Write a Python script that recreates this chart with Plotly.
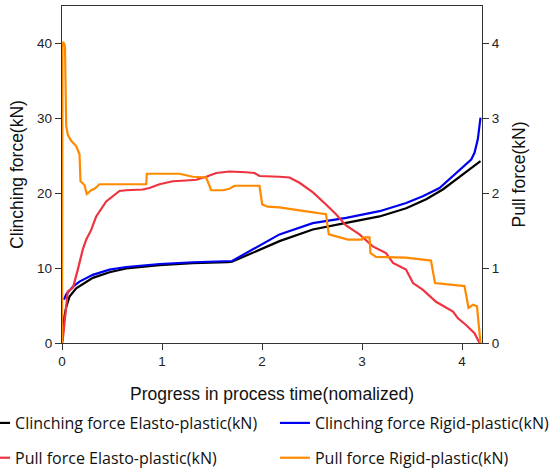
import plotly.graph_objects as go

# ---- data ----
x_ce = [0, 0.01, 0.025, 0.042, 0.075, 0.142, 0.24, 0.308, 0.475, 0.642, 0.975, 1.308, 1.658, 1.7,
        2.175, 2.508, 2.842, 3.175, 3.442, 3.642, 3.808, 3.942, 4.075, 4.185]
y_ce = [0, 1.5, 3.6, 4.8, 6.2, 7.3, 8.1, 8.7, 9.45, 9.95, 10.4, 10.65, 10.8, 10.85,
        13.6, 15.15, 16.04, 16.9, 18.0, 19.2, 20.5, 21.8, 23.2, 24.3]

x_cr = [0.02, 0.042, 0.108, 0.175, 0.308, 0.475, 0.642, 0.975, 1.308, 1.658, 1.7,
        2.175, 2.508, 2.842, 3.175, 3.442, 3.608, 3.775, 3.908, 4.008, 4.092, 4.125, 4.158, 4.185]
y_cr = [5.8, 6.5, 7.5, 8.2, 9.1, 9.8, 10.15, 10.55, 10.78, 10.92, 10.95,
        14.5, 16.0, 16.7, 17.6, 18.7, 19.6, 20.7, 22.3, 23.4, 24.5, 25.4, 27.2, 30.1]

x_pe = [0, 0.008, 0.042, 0.058, 0.092, 0.11, 0.158, 0.208, 0.242, 0.292, 0.342, 0.442, 0.575,
        0.642, 0.808, 0.875, 0.975, 1.108, 1.242, 1.342, 1.442, 1.542, 1.675, 1.775, 1.842,
        1.925, 1.975, 2.175, 2.275, 2.375, 2.51, 2.64, 2.74, 2.84, 2.975, 3.108, 3.24, 3.31,
        3.44, 3.51, 3.61, 3.74, 3.91, 3.96, 4.04, 4.125, 4.175]
y_pe = [0, 0.05, 0.49, 0.69, 0.72, 0.74, 0.98, 1.25, 1.38, 1.51, 1.69, 1.89, 2.03,
        2.04, 2.05, 2.07, 2.12, 2.16, 2.17, 2.18, 2.22, 2.27, 2.29, 2.29, 2.28,
        2.27, 2.23, 2.22, 2.21, 2.14, 2.01, 1.85, 1.72, 1.57, 1.45, 1.29, 1.20, 1.07,
        0.98, 0.80, 0.71, 0.55, 0.42, 0.33, 0.24, 0.13, 0]

x_pr = [0, 0.005, 0.021, 0.03, 0.042, 0.058, 0.092, 0.142, 0.175, 0.185, 0.225, 0.248, 0.292,
        0.325, 0.375, 0.508, 0.842, 0.848, 1.175, 1.308, 1.442, 1.492, 1.608, 1.675, 1.725,
        1.975, 2.002, 2.058, 2.175, 2.375, 2.64, 2.668, 2.81, 2.86, 3.0, 3.01, 3.075, 3.085,
        3.14, 3.44, 3.69, 3.73, 4.025, 4.065, 4.11, 4.15, 4.185]
y_pr = [0, 4.02, 4.0, 3.95, 2.9, 2.78, 2.70, 2.63, 2.52, 2.16, 2.11, 1.99, 2.04,
        2.06, 2.12, 2.12, 2.12, 2.26, 2.26, 2.22, 2.21, 2.04, 2.04, 2.06, 2.10,
        2.10, 1.85, 1.82, 1.81, 1.77, 1.72, 1.45, 1.40, 1.38, 1.38, 1.41, 1.41, 1.20,
        1.15, 1.14, 1.10, 0.80, 0.76, 0.47, 0.51, 0.49, 0]

x_ticks = [0, 1, 2, 3, 4]
y1_ticks = [0, 10, 20, 30, 40]
y2_ticks = [0, 1, 2, 3, 4]

names = ["Clinching force Elasto-plastic(kN)", "Clinching force Rigid-plastic(kN)",
         "Pull force Elasto-plastic(kN)", "Pull force Rigid-plastic(kN)"]

fig = go.Figure()
fig.add_trace(go.Scatter(x=x_ce, y=y_ce, mode="lines", name=names[0],
                         line=dict(color="#000000", width=2.2), legend="legend", legendgroup="a"))
fig.add_trace(go.Scatter(x=x_cr, y=y_cr, mode="lines", name=names[1],
                         line=dict(color="#0000F0", width=2.2), legend="legend2", legendgroup="b"))
fig.add_trace(go.Scatter(x=x_pe, y=y_pe, mode="lines", name=names[2], yaxis="y2",
                         line=dict(color="#EE3340", width=2.2), legend="legend", legendgroup="c"))
fig.add_trace(go.Scatter(x=x_pr, y=y_pr, mode="lines", name=names[3], yaxis="y2",
                         line=dict(color="#FF8A00", width=2.2), legend="legend2", legendgroup="d"))

axfont = dict(family="Liberation Sans, Arial, sans-serif", size=13.5, color="#222222")
titlefont = dict(family="Liberation Sans, Arial, sans-serif", size=17.5, color="#111111")
legfont = dict(family="Open Sans, sans-serif", size=16, color="#111111")

fig.update_layout(
    width=557, height=472,
    margin=dict(l=62, r=75, t=6, b=129, autoexpand=False),
    paper_bgcolor="white", plot_bgcolor="white",
    xaxis=dict(range=[0, 4.2], tickvals=x_ticks, ticks="outside", ticklen=6, tickwidth=1.3,
               tickcolor="#333333", showline=True, linecolor="#333333", linewidth=1.3,
               mirror=True, showgrid=False, zeroline=False, tickfont=axfont,
               title=dict(text="Progress in process time(nomalized)", font=titlefont, standoff=19)),
    yaxis=dict(range=[0, 45], tickvals=y1_ticks, ticks="outside", ticklen=6, tickwidth=1.3,
               tickcolor="#333333", showline=True, linecolor="#333333", linewidth=1.3,
               showgrid=False, zeroline=False, tickfont=axfont,
               title=dict(text="Clinching force(kN)", font=titlefont, standoff=8)),
    yaxis2=dict(range=[0, 4.5], tickvals=y2_ticks, ticks="outside", ticklen=6, tickwidth=1.3,
                tickcolor="#333333", showline=True, linecolor="#333333", linewidth=1.3,
                overlaying="y", side="right", showgrid=False, zeroline=False, tickfont=axfont,
                title=dict(text="Pull force(kN)", font=titlefont, standoff=13)),
    legend=dict(x=-0.207, y=-0.187, xanchor="left", yanchor="top", orientation="v",
                font=legfont, tracegroupgap=11, bgcolor="rgba(0,0,0,0)"),
    legend2=dict(x=0.507, y=-0.187, xanchor="left", yanchor="top", orientation="v",
                 font=legfont, tracegroupgap=11, bgcolor="rgba(0,0,0,0)"),
)

fig.write_html("out.html", config={"displayModeBar": False},
               post_script="document.body.style.margin='0px';")
